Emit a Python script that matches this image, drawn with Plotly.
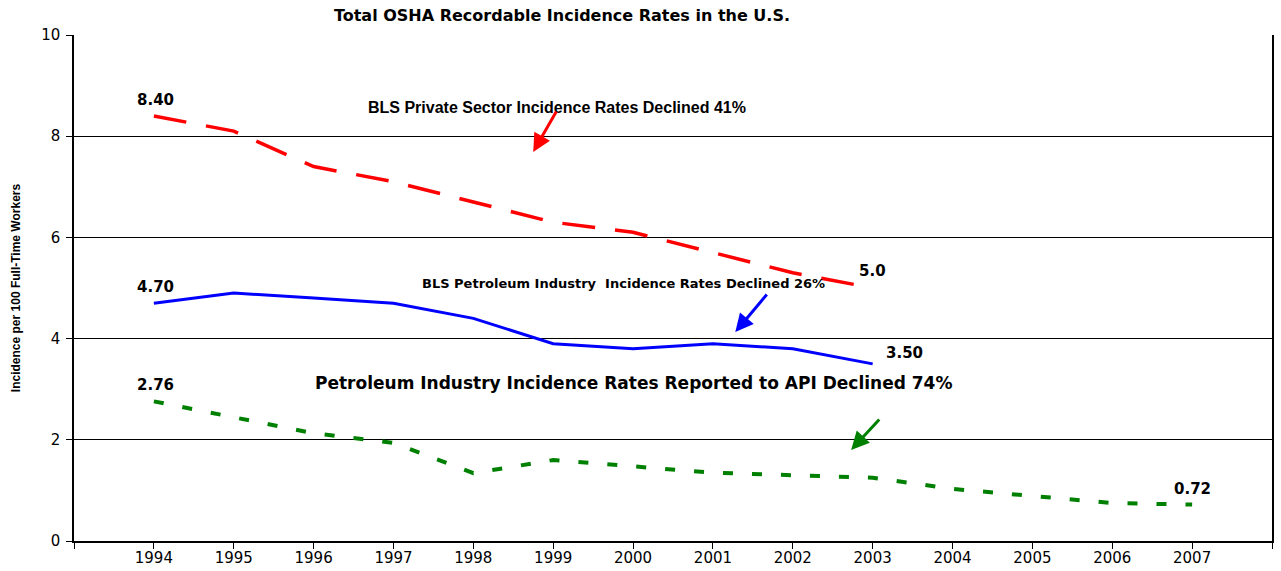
import plotly.graph_objects as go

# data
years_bls = [1994, 1995, 1996, 1997, 1998, 1999, 2000, 2001, 2002, 2003]
private_sector = [8.40, 8.1, 7.4, 7.1, 6.7, 6.3, 6.1, 5.7, 5.3, 5.0]
petroleum_bls = [4.70, 4.9, 4.8, 4.7, 4.4, 3.9, 3.8, 3.9, 3.8, 3.50]

years_api = [1994, 1995, 1996, 1997, 1998, 1999, 2000, 2001, 2002, 2003,
             2004, 2005, 2006, 2007]
petroleum_api = [2.76, 2.45, 2.13, 1.94, 1.34, 1.60, 1.48, 1.35, 1.30, 1.25,
                 1.03, 0.89, 0.75, 0.72]

tick_years = list(range(1993, 2009))
tick_labels = ["" if y in (1993, 2008) else str(y) for y in tick_years]

ARIAL = "Liberation Sans, Arial, sans-serif"
WIDE = "DejaVu Sans, sans-serif"

fig = go.Figure()

fig.add_trace(go.Scatter(
    x=years_bls, y=private_sector, mode="lines",
    line=dict(color="#FF0000", width=3.5, dash="33px,20px"),
    name="BLS Private Sector"))
fig.add_trace(go.Scatter(
    x=years_bls, y=petroleum_bls, mode="lines",
    line=dict(color="#0000FF", width=3),
    name="BLS Petroleum Industry"))
fig.add_trace(go.Scatter(
    x=years_api, y=petroleum_api, mode="lines",
    line=dict(color="#008000", width=4, dash="10px,19px"),
    name="API"))

# value labels
def value_label(x, y, text, dx=0, dy=0):
    fig.add_annotation(x=x, y=y, text="<b>%s</b>" % text, showarrow=False,
                       xshift=dx, yshift=dy,
                       font=dict(family=WIDE, size=15, color="black"))

value_label(years_bls[0], private_sector[0], "8.40", dx=2, dy=16)
value_label(years_bls[-1], private_sector[-1], "5.0", dy=17)
value_label(years_bls[0], petroleum_bls[0], "4.70", dx=2, dy=16)
value_label(years_bls[-1], petroleum_bls[-1], "3.50", dx=32, dy=11)
value_label(years_api[0], petroleum_api[0], "2.76", dx=2, dy=16)
value_label(years_api[-1], petroleum_api[-1], "0.72", dy=16)

# captions
def caption(px, py, text, family, size):
    fig.add_annotation(xref="paper", yref="paper",
                       x=(px - 74) / 1198, y=(541 - py) / 506,
                       text="<b>%s</b>" % text, showarrow=False,
                       font=dict(family=family, size=size, color="black"))

caption(557, 97, "BLS Private Sector Incidence Rates Declined 41%", ARIAL, 16)
caption(420, 283, "BLS Petroleum Industry  Incidence Rates Declined 26%", WIDE, 13)
caption(633, 395, "Petroleum Industry Incidence Rates Reported to API Declined 74%", WIDE, 17)

# arrows
for head, tail, col in [((1998.75, 7.69), (1999.05, 8.52), "#FF0000"),
                        ((2001.28, 4.13), (2001.69, 4.90), "#0000FF"),
                        ((2002.73, 1.80), (2003.10, 2.43), "#008000")]:
    fig.add_annotation(x=head[0], y=head[1], ax=tail[0], ay=tail[1],
                       xref="x", yref="y", axref="x", ayref="y",
                       text="", showarrow=True, arrowhead=2, arrowsize=1.2,
                       arrowwidth=3, arrowcolor=col)

fig.update_layout(
    width=1281, height=571,
    margin=dict(l=74, r=9, t=35, b=30),
    paper_bgcolor="white", plot_bgcolor="white",
    showlegend=False,
    title=dict(text="<b>Total OSHA Recordable Incidence Rates in the U.S.</b>",
               x=562 / 1281, xanchor="center", y=1 - 15 / 571, yanchor="middle",
               font=dict(family=WIDE, size=16, color="black")),
    xaxis=dict(range=[1993, 2008], tickmode="array", tickvals=tick_years,
               ticktext=tick_labels, ticks="outside", ticklen=6, tickcolor="black",
               showgrid=False, zeroline=False, showline=True, linecolor="black",
               linewidth=1.5, automargin=False, ticklabelstandoff=-4,
               tickfont=dict(family=WIDE, size=15, color="black")),
    yaxis=dict(range=[0, 10], dtick=2, ticks="outside", ticklen=6, tickcolor="black",
               showgrid=True, gridcolor="black", gridwidth=1, zeroline=False,
               showline=True, linecolor="black", linewidth=1.5, mirror=True,
               automargin=False, ticklabelstandoff=3,
               tickfont=dict(family=WIDE, size=15, color="black"),
               title=dict(text="<b>Incidence per 100 Full-Time Workers</b>", standoff=18,
                          font=dict(family="Liberation Sans Narrow, Arial Narrow, sans-serif",
                                    size=12, color="black"))),
)

# drop the page's default body margin so the figure sits at the window corner
fig.write_html("out.html", config={"displayModeBar": False},
               post_script="document.body.style.margin='0';")
